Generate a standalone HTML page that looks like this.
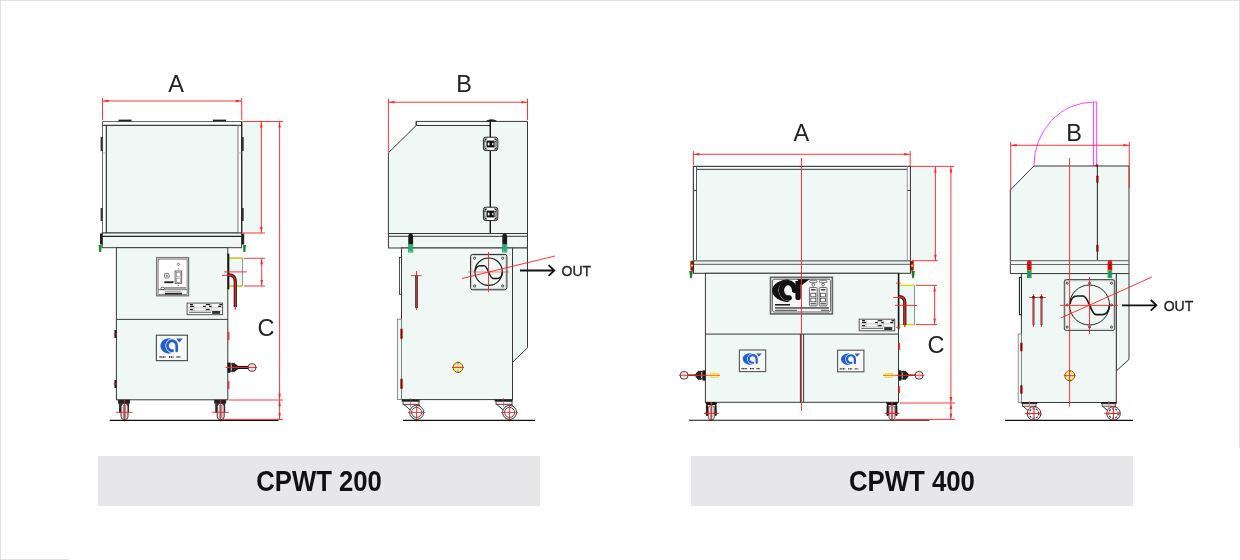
<!DOCTYPE html>
<html><head><meta charset="utf-8">
<style>
html,body{margin:0;padding:0;background:#fff;}
body{width:1240px;height:560px;overflow:hidden;position:relative;font-family:"Liberation Sans",sans-serif;}
svg{position:absolute;left:0;top:0;will-change:transform;}
.o{fill:none;stroke:#383838;stroke-width:1;}
.of{fill:#eff8f5;stroke:#383838;stroke-width:1;}
.g{fill:none;stroke:#8a8a8a;stroke-width:1;}
.r{fill:none;stroke:#ff2020;stroke-width:0.9;}
.rf{fill:#ff2020;stroke:none;}
.t{font-family:"Liberation Sans",sans-serif;fill:#222;}
</style></head><body>
<svg width="1240" height="560" viewBox="0 0 1240 560">
<defs>
<g id="nplate">
<rect x="0" y="0" width="35.5" height="11.6" fill="#fafafa" stroke="#555" stroke-width="1"/>
<path d="M7,0.6 V7.6 M18.3,0.6 V7.6 M24,0.6 V7.6 M0.8,4.7 H34.7 M0.8,7.6 H34.7" stroke="#999" stroke-width="0.5" fill="none"/>
<g fill="#1a1a1a">
<rect x="2.8" y="0.9" width="3" height="1.2"/><rect x="19" y="0.9" width="4" height="1.2"/><rect x="32.3" y="0.9" width="2.6" height="1.2"/>
<rect x="2.8" y="2.7" width="4" height="1.2"/><rect x="16" y="2.7" width="2.5" height="1.2"/><rect x="22" y="2.7" width="2.5" height="1.2"/><rect x="31" y="2.7" width="3.2" height="1.2"/>
<rect x="2.8" y="5.8" width="3" height="1.2"/><rect x="19" y="5.8" width="3.5" height="1.2"/>
<rect x="25" y="7.9" width="8" height="2.9" fill="#333"/>
</g>
<rect x="2" y="8.7" width="22" height="1" fill="#666"/>
</g>
<g id="logo">
<path d="M17.75,0.79 A14.5,11.3 0 1 0 19.16,22.5 A10.95,10.9 0 0 1 17.75,0.79 Z" fill="currentColor"/>
<path d="M20.08,19.1 A7.6,7.55 0 1 1 26.75,11.6 L26.75,19.3" fill="none" stroke="currentColor" stroke-width="4.3" stroke-linecap="round"/>
<path d="M26.2,0.75 H36.7 L30.9,6.9 Z" fill="currentColor"/>
</g>
</defs>
<!-- frame -->
<rect x="0" y="0" width="1240" height="1" fill="#e0e0e0"/>
<rect x="0" y="0" width="1" height="560" fill="#e0e0e0"/>
<rect x="1239" y="0" width="1" height="448" fill="#e0e0e0"/>
<rect x="0" y="559" width="69" height="1" fill="#e0e0e0"/>

<!-- ============ MACHINE 1 FRONT ============ -->
<g id="m1f">
<!-- pale side region -->
<rect x="242" y="121.5" width="19.4" height="111.5" fill="#eff8f5"/>
<!-- hood -->
<rect x="102.5" y="121.5" width="139.2" height="111.5" fill="#eff8f5" stroke="#6a6a6a" stroke-width="1"/>
<path d="M102.5,121.5 H241.7 V233 H238 V125.3 H106.3 V233 H102.5 Z" fill="#fcfdfd"/>
<rect x="102.5" y="121.5" width="139.2" height="111.5" fill="none" stroke="#6a6a6a" stroke-width="1"/>
<line x1="102.5" y1="125.3" x2="241.7" y2="125.3" stroke="#111" stroke-width="1"/>
<line x1="106.3" y1="125.3" x2="106.3" y2="233" stroke="#111" stroke-width="1"/>
<line x1="238" y1="125.3" x2="238" y2="233" stroke="#777" stroke-width="1"/>
<line x1="241.7" y1="121.5" x2="241.7" y2="233" stroke="#111" stroke-width="1"/>
<line x1="102.5" y1="153" x2="106.3" y2="153" stroke="#999" stroke-width="0.7"/>
<line x1="238" y1="153" x2="241.7" y2="153" stroke="#999" stroke-width="0.7"/>
<rect x="118.5" y="119.6" width="13" height="1.8" fill="#222"/>
<rect x="213" y="119.6" width="13" height="1.8" fill="#222"/>
<rect x="100.6" y="137" width="2" height="14" fill="#333"/>
<rect x="100.6" y="208" width="2" height="13" fill="#333"/>
<rect x="241.7" y="137" width="2" height="14" fill="#333"/>
<rect x="241.7" y="208" width="2" height="13" fill="#333"/>
<!-- rail + base plate -->
<rect x="102.2" y="233" width="139.4" height="14.7" class="of"/>
<line x1="102.2" y1="236.3" x2="241.6" y2="236.3" stroke="#222" stroke-width="1.2"/>

<!-- lower cabinet -->
<rect x="116.4" y="247.7" width="111.4" height="152.1" class="of"/>
<line x1="116.4" y1="319.4" x2="227.8" y2="319.4" class="o"/>
<!-- latches -->
<rect x="100" y="233.5" width="2.6" height="11" fill="#222"/>
<path d="M98.6,245 L101.6,245 L101.2,252 L99.2,252 Z" fill="#1a8a2a"/>
<rect x="241.6" y="233.5" width="2.6" height="11" fill="#222"/>
<path d="M243,245 L246,245 L245.4,252 L243.4,252 Z" fill="#1a8a2a"/>
<!-- control panel -->
<rect x="156.6" y="257.6" width="32" height="38.2" fill="#fff" stroke="#777" stroke-width="1.3"/>
<rect x="158.1" y="259.1" width="29" height="35.2" fill="none" stroke="#333" stroke-width="0.6"/>
<path d="M178.3,262.9 l1.4,1.4 l-1.4,1.4 l-1.4,-1.4 z" fill="none" stroke="#333" stroke-width="0.6"/>
<circle cx="178.3" cy="268.8" r="0.5" fill="#444"/>
<rect x="175.1" y="271" width="6.6" height="12.3" fill="#fff" stroke="#555" stroke-width="0.9"/>
<rect x="176.4" y="272.5" width="4" height="4.3" fill="#fff" stroke="#777" stroke-width="0.6"/>
<rect x="176.4" y="278.2" width="4" height="4.1" fill="#fff" stroke="#777" stroke-width="0.6"/>
<circle cx="178.3" cy="285.5" r="0.5" fill="#444"/>
<rect x="164.5" y="273.4" width="4.6" height="4.6" rx="1.3" fill="#fff" stroke="#333" stroke-width="0.7"/>
<path d="M165.6,275.7 h2.4 M166.8,274.5 v2.4" stroke="#333" stroke-width="0.6"/>
<rect x="164.3" y="281.3" width="9.2" height="1.9" fill="#222"/>
<ellipse cx="162.7" cy="288.4" rx="1.9" ry="1.2" fill="none" stroke="#222" stroke-width="0.7"/>
<rect x="165" y="287.4" width="21" height="1.1" fill="#555"/>
<rect x="158.2" y="289.5" width="29" height="0.6" fill="#222"/>
<rect x="164.5" y="290.9" width="17" height="0.8" fill="#888"/>
<rect x="165" y="292.8" width="17" height="1.6" fill="#222"/>
<!-- nameplate -->
<use href="#nplate" transform="translate(187.1,303.1)"/>
<!-- logo box -->
<rect x="156.4" y="335.2" width="31" height="25.4" fill="#f8f8f8" stroke="#555" stroke-width="1.2"/>
<use href="#logo" transform="translate(160.4,338) scale(0.61,0.67)" color="#1f5fd2"/>
<path d="M159.5,357 h6 m3.5,0 h4.5 m3,0 h4" stroke="#222" stroke-width="1.5" stroke-dasharray="1.2,0.6"/>
<!-- side hinges -->
<rect x="114.4" y="330" width="2" height="8" fill="#222"/>
<line x1="113.5" y1="334" x2="117" y2="334" stroke="#f22" stroke-width="0.8"/>
<rect x="114.4" y="380" width="2" height="8" fill="#222"/>
<line x1="113.5" y1="384" x2="117" y2="384" stroke="#f22" stroke-width="0.8"/>
<rect x="227.8" y="332" width="1.6" height="8" fill="#e33"/>
<rect x="227.8" y="381" width="1.6" height="8" fill="#e33"/>
<!-- flange right -->
<rect x="228" y="258.1" width="14.6" height="27.9" fill="#eff8f5" stroke="#888" stroke-width="0.9"/>
<line x1="228" y1="258.1" x2="242.6" y2="258.1" stroke="#d8d800" stroke-width="1.3"/>
<line x1="228" y1="286" x2="242.6" y2="286" stroke="#d8d800" stroke-width="1.3"/>
<rect x="227.5" y="253.6" width="1.8" height="35.7" fill="#111"/>
<path d="M228.5,274.8 Q235.3,274.8 235.3,281.5 L235.3,307" fill="none" stroke="#1a1a1a" stroke-width="3.2"/>
<path d="M228.5,274.8 Q235.3,274.8 235.3,281.5 L235.3,309.5" fill="none" stroke="#f22" stroke-width="1.3"/>
<line x1="224" y1="271.9" x2="247" y2="271.9" class="r"/>
<line x1="222" y1="275.4" x2="232" y2="275.4" class="r"/>
<!-- valve -->
<g transform="translate(227.6,367.5)">
<rect x="0" y="-5" width="2.8" height="10.3" fill="#1a1a1a"/>
<path d="M2.6,-4.3 H4.6 L5.2,-4.9 L5.9,-4.1 L6.6,-4.9 L7.3,-4.1 L8.6,-3 V3 L7.3,4.1 L6.6,4.9 L5.9,4.1 L5.2,4.9 L4.6,4.3 H2.6 Z" fill="#222"/>
<rect x="3.3" y="-3" width="0.9" height="6" fill="#cfd8d6"/>
<path d="M8.5,-3 L10.6,-1.5 H20.8 V1.5 H10.6 L8.5,3 Z" fill="#111"/>
<circle cx="24.4" cy="0" r="4" fill="#fff" stroke="#222" stroke-width="0.9"/>
<line x1="-2" y1="0" x2="29.4" y2="0" stroke="#ff2020" stroke-width="1"/>
<line x1="24.4" y1="-5" x2="24.4" y2="5" stroke="#ff8c8c" stroke-width="1"/>
</g>
<!-- casters -->
<g id="cast1">
<rect x="118" y="399.8" width="12" height="3.8" fill="#222"/>
<rect x="119" y="403" width="10" height="10" fill="#333"/>
<rect x="121" y="403.5" width="7" height="16" rx="3" fill="#ddd" stroke="#222" stroke-width="0.9"/>
<rect x="123" y="405" width="3" height="13" fill="#999"/>
<line x1="124.4" y1="399" x2="124.4" y2="421.5" class="r" stroke-width="1.2"/>
<line x1="116" y1="412.3" x2="132.5" y2="412.3" class="r" stroke-width="1.2"/>
</g>
<use href="#cast1" transform="translate(96.2,0)"/>
<!-- floor -->
<line x1="109.8" y1="420.4" x2="278.6" y2="420.4" stroke="#111" stroke-width="1.1"/>
<!-- dimensions -->
<line x1="102.5" y1="98" x2="102.5" y2="120" class="r"/>
<line x1="241.7" y1="98" x2="241.7" y2="120" class="r"/>
<line x1="102.5" y1="101" x2="241.7" y2="101" class="r"/>
<path d="M103,101 l5.5,-1.25 v2.5 z M241.2,101 l-5.5,-1.25 v2.5 z" class="rf"/>
<text x="176" y="92" text-anchor="middle" font-size="23.5" class="t">A</text>
<line x1="243" y1="121.5" x2="283" y2="121.5" class="r"/>
<line x1="243" y1="233" x2="265" y2="233" class="r"/>
<line x1="261.4" y1="121.5" x2="261.4" y2="233" class="r"/>
<path d="M261.4,122 l-1.25,5.5 h2.5 z M261.4,232.5 l-1.25,-5.5 h2.5 z" class="rf"/>
<line x1="279.6" y1="121.5" x2="279.6" y2="419.4" class="r"/>
<path d="M279.6,122 l-1.25,5.5 h2.5 z M279.6,399.2 l-1.25,-5.5 h2.5 z M279.6,400.6 l-1.25,5.5 h2.5 z M279.6,418.8 l-1.25,-5.5 h2.5 z" class="rf"/>
<line x1="244" y1="258.3" x2="265" y2="258.3" class="r"/>
<line x1="244" y1="286" x2="265" y2="286" class="r"/>
<line x1="261.7" y1="258.3" x2="261.7" y2="286" class="r"/>
<path d="M261.7,258.8 l-1.25,5.5 h2.5 z M261.7,285.5 l-1.25,-5.5 h2.5 z" class="rf"/>
<line x1="229" y1="400" x2="283" y2="400" class="r"/>
<line x1="223" y1="419.4" x2="283" y2="419.4" class="r"/>
<text x="266" y="336" text-anchor="middle" font-size="23.5" class="t">C</text>
</g>

<!-- ============ MACHINE 1 SIDE ============ -->
<g id="m1s">
<!-- hood -->
<path d="M416.2,121.4 H527.5 V233.5 H388.4 V152.8 L416.2,125.5 Z" class="of"/>
<path d="M416.2,121.4 V125.5 H490" class="o"/>
<line x1="490.3" y1="121.4" x2="490.3" y2="233.5" stroke="#111" stroke-width="1.4"/>
<path d="M486,121.4 q1,-2 5.5,-2.2 q4.5,0.2 5.5,2.2 z" fill="#222"/>
<g id="hng1">
<rect x="483.4" y="137.2" width="14.4" height="13.4" rx="2.5" fill="#fff" stroke="#222" stroke-width="1"/>
<path d="M484.5,138.5 l3,0 l-3,3 z M496.7,138.5 l-3,0 l3,3 z M484.5,149.5 l3,0 l-3,-3 z M496.7,149.5 l-3,0 l3,-3 z" fill="#222"/>
<rect x="486.6" y="140.6" width="8" height="6.8" fill="#111"/>
<rect x="487.8" y="142.6" width="1.6" height="2.8" fill="#fff"/>
<rect x="492" y="142.8" width="1.6" height="2.4" fill="#bbb"/>
<rect x="484.6" y="141.5" width="1.4" height="5" fill="#fff" stroke="#222" stroke-width="0.5"/>
<rect x="495.2" y="141.5" width="1.4" height="5" fill="#fff" stroke="#222" stroke-width="0.5"/>
</g>
<use href="#hng1" transform="translate(0,70)"/>
<!-- rail + base -->
<rect x="388.4" y="233.5" width="139.1" height="14.5" class="of"/>
<line x1="388.4" y1="236.3" x2="527.5" y2="236.3" class="o"/>

<!-- lower cabinet -->
<path d="M512.5,248 H527.5 V347.8 L512.5,362.3 Z" class="of"/>
<rect x="401.5" y="248" width="111" height="151.6" class="of"/>
<!-- latches -->
<g id="lt1">
<path d="M408.3,236 q0,-2.5 2.4,-2.5 q2.4,0 2.4,2.5 v8.5 h-4.8 z" fill="#1a1a1a"/>
<rect x="409.2" y="244.5" width="3" height="7" fill="#2a9fb0"/>
<rect x="408.6" y="244.8" width="4.2" height="7.2" fill="none" stroke="#18b020" stroke-width="0.9"/>
</g>
<use href="#lt1" transform="translate(94,0)"/>
<rect x="399.4" y="257.3" width="2" height="37" fill="#fff" stroke="#222" stroke-width="0.8"/>
<rect x="397.4" y="319.2" width="4.2" height="80.4" fill="#eff8f5" stroke="#777" stroke-width="0.8"/>
<rect x="400.3" y="328.6" width="2.4" height="10.6" rx="1" fill="#c41818"/><line x1="401.5" y1="329.5" x2="401.5" y2="338.3" stroke="#300" stroke-width="0.7"/>
<rect x="400.3" y="378.6" width="2.4" height="10.6" rx="1" fill="#c41818"/><line x1="401.5" y1="379.5" x2="401.5" y2="388.3" stroke="#300" stroke-width="0.7"/>
<!-- tube -->
<line x1="416.5" y1="275" x2="416.5" y2="308" stroke="#222" stroke-width="2.6"/>
<line x1="416.5" y1="271" x2="416.5" y2="310" class="r"/>
<line x1="411" y1="275.6" x2="421.5" y2="275.6" class="r"/>
<!-- fan -->
<rect x="470.6" y="254.4" width="36.3" height="35.4" rx="2.2" fill="#eff8f5" stroke="#222" stroke-width="1"/>
<rect x="471.8" y="255.6" width="33.9" height="33" rx="1.5" fill="none" stroke="#aaa" stroke-width="0.5"/>
<circle cx="488.6" cy="271.7" r="13.7" fill="none" stroke="#1a1a1a" stroke-width="1.1"/>
<path d="M475.2,271.2 C475.6,267.9 477.1,265.7 480.1,265.7 L484.1,265.7 C486.1,265.7 487.6,269.4 488.6,271.9 C489.6,274.4 491.1,278.5 493.1,278.5 L497.4,278.5 C500.1,278.5 502.2,275.9 502.4,271.9" fill="none" stroke="#1a1a1a" stroke-width="1.4"/>
<g fill="none" stroke="#333" stroke-width="0.9">
<circle cx="474.6" cy="258.2" r="1.1"/><circle cx="502.7" cy="258.2" r="1.1"/>
<circle cx="474.6" cy="286" r="1.1"/><circle cx="502.7" cy="286" r="1.1"/>
</g>
<line x1="488.5" y1="252" x2="488.5" y2="292" class="r"/>
<line x1="468" y1="272" x2="509" y2="272" class="r" stroke-opacity="0.6"/>
<line x1="462" y1="278.5" x2="555" y2="256" class="r"/>
<!-- arrow OUT -->
<line x1="520" y1="270.5" x2="554" y2="270.5" stroke="#111" stroke-width="1.8"/>
<path d="M548.6,265.2 L554.3,270.5 L548.6,275.8" fill="none" stroke="#111" stroke-width="1.8"/>
<text x="561.6" y="275.6" font-size="14.6" class="t" style="fill:#222;stroke:#222;stroke-width:0.35" textLength="29.6" lengthAdjust="spacingAndGlyphs">OUT</text>
<!-- yellow circle -->
<g id="ycirc">
<circle cx="458" cy="367.4" r="4.9" fill="#eef9f8" stroke="#222" stroke-width="0.9"/>
<circle cx="458" cy="367.4" r="3.9" fill="none" stroke="#f4f000" stroke-width="1.4"/>
<line x1="458" y1="361.6" x2="458" y2="373.2" stroke="#ff8c8c" stroke-width="1"/>
<line x1="452" y1="367.4" x2="464" y2="367.4" stroke="#ff2020" stroke-width="1"/>
<rect x="457.4" y="361.8" width="1.2" height="1.4" fill="#922"/>
<rect x="457.4" y="371.6" width="1.2" height="1.4" fill="#922"/>
</g>
<!-- casters -->
<g id="scast1">
<rect x="401.6" y="399.6" width="18" height="1.8" fill="#222"/>
<rect x="403" y="401.3" width="16" height="3" fill="#f4f4f4" stroke="#222" stroke-width="0.8"/>
<path d="M403.5,404.3 L414,413 M419,404.3 L419.5,409" stroke="#222" stroke-width="0.9" fill="none"/>
<circle cx="416.6" cy="412.4" r="7" fill="#fff" stroke="#222" stroke-width="0.9"/>
<circle cx="416.6" cy="412.4" r="5" fill="none" stroke="#222" stroke-width="0.8"/>
<line x1="408" y1="412.4" x2="425" y2="412.4" class="r" stroke-width="1.2"/>
<line x1="416.6" y1="404" x2="416.6" y2="421.5" class="r" stroke-width="1.2"/>
<line x1="410.5" y1="398" x2="410.5" y2="407" class="r" stroke-opacity="0.6"/>
</g>
<use href="#scast1" transform="translate(93,0)"/>
<line x1="403" y1="420.4" x2="535" y2="420.4" stroke="#111" stroke-width="1.1"/>
<!-- dims -->
<line x1="388.4" y1="98.6" x2="388.4" y2="152" class="r"/>
<line x1="527.5" y1="98.7" x2="527.5" y2="120" class="r"/>
<line x1="388.4" y1="102.2" x2="527.5" y2="102.2" class="r"/>
<path d="M388.9,102.2 l5.5,-1.25 v2.5 z M527,102.2 l-5.5,-1.25 v2.5 z" class="rf"/>
<text x="464" y="91.7" text-anchor="middle" font-size="23.5" class="t">B</text>
</g>

<!-- ============ MACHINE 2 FRONT ============ -->
<g id="m2f">
<rect x="910.4" y="166.4" width="25" height="94.3" fill="#eff8f5"/>
<!-- hood -->
<rect x="693.4" y="166.4" width="217" height="94.3" class="of"/>
<path d="M693.4,166.4 H910.4 V260.7 H907.3 V169.3 H696.5 V260.7 H693.4 Z" fill="#fcfdfd"/>
<rect x="693.4" y="166.4" width="217" height="94.3" class="o"/>
<line x1="696.5" y1="169.3" x2="907.3" y2="169.3" class="o"/>
<line x1="696.5" y1="166.4" x2="696.5" y2="260.7" stroke="#555" stroke-width="1"/>
<line x1="907.3" y1="166.4" x2="907.3" y2="260.7" stroke="#999" stroke-width="1"/>
<line x1="693.4" y1="190.4" x2="696.5" y2="190.4" stroke="#333" stroke-width="1"/>
<line x1="907.3" y1="190.4" x2="910.4" y2="190.4" stroke="#333" stroke-width="1"/>
<!-- rail + base -->
<rect x="693.4" y="260.7" width="217" height="12.6" fill="#eff8f5" stroke="#333" stroke-width="1"/>
<line x1="693.4" y1="260.7" x2="910.4" y2="260.7" stroke="#888" stroke-width="1.6"/>
<line x1="693.4" y1="264.4" x2="910.4" y2="264.4" stroke="#777" stroke-width="1.2"/>

<!-- lower cabinet -->
<rect x="705.4" y="273.3" width="193.1" height="129" class="of"/>
<line x1="705.4" y1="334.1" x2="898.5" y2="334.1" class="o"/>
<line x1="800.4" y1="334.1" x2="800.4" y2="402.3" class="o"/>
<line x1="803.6" y1="334.1" x2="803.6" y2="402.3" class="o"/>
<!-- latches -->
<g id="lt2">
<rect x="690.4" y="260.8" width="3.2" height="10" rx="1" fill="#a81010"/>
<line x1="693.6" y1="261" x2="693.6" y2="270.5" stroke="#222" stroke-width="0.7"/>
<circle cx="691.9" cy="265.6" r="1.2" fill="#f0d800"/>
<rect x="689.8" y="264.3" width="1" height="1" fill="#e22"/>
<path d="M689.3,271 L692.8,271 L691.8,278.2 L690.2,278.2 Z" fill="#1a7a22"/>
</g>
<use href="#lt2" transform="translate(1604.1,0) scale(-1,1)"/>
<!-- control panel -->
<rect x="770.5" y="277.3" width="61.9" height="36.6" fill="#f6f6f6" stroke="#666" stroke-width="1.6"/>
<path d="M773.5,279.2 H829.5 L830.6,280.3 V310.9 L829.5,312 H773.5 L772.4,310.9 V280.3 Z" fill="none" stroke="#222" stroke-width="0.7"/>
<path d="M790,279.2 A18,11.4 0 0 0 790,302 L789,301.6 A12.2,11.1 0 0 1 789,279.6 Z" fill="#111"/>
<path d="M789.15,297.9 A6.6,7.7 0 1 1 794.6,290.3" fill="none" stroke="#111" stroke-width="5.4" stroke-linecap="round"/>
<path d="M795.4,281 H800.7 V297.4 A2.65,2.65 0 0 1 795.4,297.4 Z" fill="#111"/>
<path d="M797,279.2 H809.5 L801.5,285.5 Z" fill="#111"/>
<g id="sw2">
<rect x="809.6" y="280.3" width="7.4" height="2.4" rx="1.2" fill="#eee" stroke="#222" stroke-width="0.6"/>
<circle cx="813.3" cy="284.7" r="1.3" fill="none" stroke="#222" stroke-width="0.6"/>
<rect x="809.4" y="287.5" width="7.8" height="18.4" rx="1" fill="#f4f4f4" stroke="#333" stroke-width="0.7"/>
<rect x="811" y="289" width="4.6" height="1.5" fill="#444"/>
<rect x="810.8" y="293.2" width="5" height="3.6" fill="#fff" stroke="#333" stroke-width="0.7"/>
<rect x="810.8" y="298.2" width="5" height="3.6" fill="#fff" stroke="#333" stroke-width="0.7"/>
<rect x="810.5" y="303" width="5.6" height="1.4" fill="#666"/>
</g>
<use href="#sw2" transform="translate(9.8,0)"/>
<rect x="775" y="304" width="15" height="1.6" fill="#222"/>
<rect x="775" y="307.3" width="54" height="1.3" fill="#333"/>
<rect x="775" y="309.8" width="22" height="1" fill="#444"/>
<rect x="821" y="309.8" width="8" height="1" fill="#444"/>
<!-- nameplate -->
<use href="#nplate" transform="translate(859.2,319.2)"/>
<!-- logo boxes -->
<g id="lg2">
<rect x="739.4" y="350" width="26.3" height="21.6" fill="#f8f8f8" stroke="#555" stroke-width="1.1"/>
<use href="#logo" transform="translate(742.75,353) scale(0.52,0.51)" color="#1f5fd2"/>
<path d="M741.5,368.6 h5.5 m3,0 h4 m2.5,0 h3.5" stroke="#222" stroke-width="1.3" stroke-dasharray="1.1,0.5"/>
</g>
<use href="#lg2" transform="translate(98.2,0.2)"/>
<!-- right side hinges -->
<rect x="898.5" y="343" width="1.6" height="7" fill="#e33"/>
<rect x="898.5" y="386" width="1.6" height="7" fill="#e33"/>
<!-- flange right -->
<rect x="898.5" y="285.4" width="16" height="39.2" fill="#eff8f5" stroke="#888" stroke-width="0.9"/>
<line x1="898.5" y1="285.4" x2="914.5" y2="285.4" stroke="#d8d800" stroke-width="1.3"/>
<line x1="898.5" y1="324.6" x2="914.5" y2="324.6" stroke="#d8d800" stroke-width="1.3"/>
<rect x="897.8" y="273.3" width="1.6" height="56" fill="#111"/>
<path d="M898.8,296.6 Q904.8,296.6 904.8,302.5 L904.8,325" fill="none" stroke="#1a1a1a" stroke-width="3.2"/>
<path d="M898.8,296.6 Q904.8,296.6 904.8,302.5 L904.8,327" fill="none" stroke="#f22" stroke-width="1.3"/>
<line x1="893" y1="297.5" x2="905" y2="297.5" class="r"/>
<line x1="895" y1="305.4" x2="917" y2="305.4" class="r"/>
<line x1="896" y1="283" x2="900.5" y2="283" class="r"/>
<line x1="896" y1="327.3" x2="900.5" y2="327.3" class="r"/>
<!-- valves -->
<g id="vl2" transform="translate(705.4,375.3) scale(-1,1)">
<rect x="0" y="-5" width="2.8" height="10.3" fill="#1a1a1a"/>
<path d="M2.6,-4.3 H4.6 L5.2,-4.9 L5.9,-4.1 L6.6,-4.9 L7.3,-4.1 L8.6,-3 V3 L7.3,4.1 L6.6,4.9 L5.9,4.1 L5.2,4.9 L4.6,4.3 H2.6 Z" fill="#222"/>
<rect x="3.3" y="-3" width="0.9" height="6" fill="#cfd8d6"/>
<path d="M8.5,-3 L10.3,-0.8 H17.7 V0.8 H10.3 L8.5,3 Z" fill="#111"/>
<circle cx="21.3" cy="0" r="4" fill="#fff" stroke="#222" stroke-width="0.9"/>
<line x1="-2" y1="0" x2="26.3" y2="0" stroke="#ff2020" stroke-width="1"/>
<line x1="21.3" y1="-5" x2="21.3" y2="5" stroke="#ff8c8c" stroke-width="1"/>
</g>
<g transform="translate(898.5,375.3)">
<rect x="0" y="-5" width="2.8" height="10.3" fill="#1a1a1a"/>
<path d="M2.6,-4.3 H4.6 L5.2,-4.9 L5.9,-4.1 L6.6,-4.9 L7.3,-4.1 L8.6,-3 V3 L7.3,4.1 L6.6,4.9 L5.9,4.1 L5.2,4.9 L4.6,4.3 H2.6 Z" fill="#222"/>
<rect x="3.3" y="-3" width="0.9" height="6" fill="#cfd8d6"/>
<path d="M8.5,-3 L10.3,-0.8 H17.0 V0.8 H10.3 L8.5,3 Z" fill="#111"/>
<circle cx="20.6" cy="0" r="4" fill="#fff" stroke="#222" stroke-width="0.9"/>
<line x1="-2" y1="0" x2="25.6" y2="0" stroke="#ff2020" stroke-width="1"/>
<line x1="20.6" y1="-5" x2="20.6" y2="5" stroke="#ff8c8c" stroke-width="1"/>
</g>
<rect x="711" y="373.4" width="7" height="3.9" fill="none" stroke="#f0ec00" stroke-width="1.1"/>
<rect x="885.2" y="373.4" width="7" height="3.9" fill="none" stroke="#f0ec00" stroke-width="1.1"/>
<line x1="707" y1="375.3" x2="720" y2="375.3" stroke="#ff4040" stroke-width="0.9"/>
<line x1="883" y1="375.3" x2="897" y2="375.3" stroke="#ff4040" stroke-width="0.9"/>
<!-- casters -->
<g id="cast2">
<path d="M705.3,402.3 H717.3 L716.3,405 H706.3 Z" fill="#111"/>
<rect x="705.9" y="405" width="2.2" height="11" rx="1" fill="#222"/>
<rect x="714.5" y="405" width="2.2" height="11" rx="1" fill="#222"/>
<rect x="708.3" y="405.6" width="6" height="14.4" rx="2.8" fill="#e4e4e4" stroke="#444" stroke-width="0.8"/>
<rect x="710.2" y="407" width="2.2" height="12" fill="#aaa"/>
<circle cx="707" cy="413.3" r="1.3" fill="#111"/>
<circle cx="715.6" cy="413.3" r="1.3" fill="#111"/>
<line x1="711.3" y1="402" x2="711.3" y2="420.5" stroke="#ff2020" stroke-width="1.1"/>
<line x1="704" y1="413.3" x2="718.6" y2="413.3" stroke="#ff2020" stroke-width="1.1"/>
</g>
<use href="#cast2" transform="translate(180.7,0)"/>
<line x1="689" y1="420.3" x2="929.5" y2="420.3" stroke="#111" stroke-width="1.1"/>
<!-- center line -->
<line x1="801.5" y1="158" x2="801.5" y2="411" class="r"/>
<!-- dims -->
<line x1="693.4" y1="151" x2="693.4" y2="165" class="r"/>
<line x1="910.2" y1="151" x2="910.2" y2="166" class="r"/>
<line x1="693.4" y1="154.3" x2="910.2" y2="154.3" class="r"/>
<path d="M693.9,154.3 l5.5,-1.25 v2.5 z M909.7,154.3 l-5.5,-1.25 v2.5 z" class="rf"/>
<text x="801.3" y="141.2" text-anchor="middle" font-size="23.5" class="t">A</text>
<line x1="911" y1="166.4" x2="954" y2="166.4" class="r"/>
<line x1="912" y1="260.7" x2="938" y2="260.7" class="r"/>
<line x1="935.4" y1="166.4" x2="935.4" y2="260.7" class="r"/>
<path d="M935.4,166.9 l-1.25,5.5 h2.5 z M935.4,260.2 l-1.25,-5.5 h2.5 z" class="rf"/>
<line x1="950.9" y1="166.4" x2="950.9" y2="419.4" class="r"/>
<path d="M950.9,166.9 l-1.25,5.5 h2.5 z M950.9,402.5 l-1.25,-5.5 h2.5 z M950.9,403.5 l-1.25,5.5 h2.5 z M950.9,418.9 l-1.25,-5.5 h2.5 z" class="rf"/>
<line x1="916" y1="285.4" x2="937" y2="285.4" class="r"/>
<line x1="916" y1="324.6" x2="937" y2="324.6" class="r"/>
<line x1="934.6" y1="285.4" x2="934.6" y2="324.6" class="r"/>
<path d="M934.6,285.9 l-1.25,5.5 h2.5 z M934.6,324.1 l-1.25,-5.5 h2.5 z" class="rf"/>
<line x1="900" y1="403" x2="955" y2="403" class="r"/>
<line x1="895" y1="419.4" x2="955" y2="419.4" class="r"/>
<text x="936" y="352.8" text-anchor="middle" font-size="23.5" class="t">C</text>
</g>

<!-- ============ MACHINE 2 SIDE ============ -->
<g id="m2s">
<!-- magenta door swing -->
<path d="M1033.9,165.7 A59.7,63.6 0 0 1 1093.6,102.1" fill="none" stroke="#ff30ff" stroke-width="0.9"/>
<rect x="1093.6" y="102.1" width="3.1" height="63.6" fill="#eff8f5" stroke="#ff30ff" stroke-width="0.9"/>
<!-- hood -->
<path d="M1033.8,166 H1129 V273.6 H1010.3 V190 Z" class="of"/>
<line x1="1097.4" y1="166" x2="1097.4" y2="260.6" stroke="#333" stroke-width="1.1"/>
<rect x="1096.2" y="175.5" width="2.4" height="7.5" rx="0.8" fill="#b82020"/><line x1="1097.4" y1="176" x2="1097.4" y2="182.5" stroke="#222" stroke-width="0.8"/>
<rect x="1096.2" y="244.6" width="2.4" height="7.5" rx="0.8" fill="#b82020"/><line x1="1097.4" y1="245" x2="1097.4" y2="251.6" stroke="#222" stroke-width="0.8"/>
<circle cx="1097" cy="165.6" r="1.3" fill="#c00"/>
<line x1="1010.3" y1="260.6" x2="1129" y2="260.6" stroke="#777" stroke-width="1.3"/>
<line x1="1010.3" y1="264.5" x2="1129" y2="264.5" stroke="#666" stroke-width="1.1"/>

<!-- back + lower cabinet -->
<path d="M1116.3,273.6 H1129 V359.4 L1116.3,371 Z" class="of"/>
<rect x="1021.4" y="273.6" width="94.9" height="128.9" class="of"/>
<!-- latches -->
<g id="lt3">
<path d="M1027,262.5 q0,-2.2 2.3,-2.2 q2.3,0 2.3,2.2 v8.1 h-4.6 z" fill="#e81010"/>
<rect x="1028.6" y="264" width="1.4" height="1.8" fill="#500"/>
<rect x="1028.2" y="267.3" width="2.2" height="1" fill="#500"/>
<rect x="1027.4" y="270.3" width="1" height="0.8" fill="#e0c000"/><rect x="1030.2" y="270.3" width="1" height="0.8" fill="#e0c000"/>
<rect x="1027.8" y="271" width="3" height="6.6" fill="#1e8aa0"/>
<rect x="1027.5" y="271" width="3.6" height="6.6" fill="none" stroke="#10b020" stroke-width="0.9"/>
</g>
<use href="#lt3" transform="translate(80.6,0)"/>
<rect x="1019.4" y="277.3" width="2" height="37.4" fill="#fff" stroke="#111" stroke-width="1"/>
<rect x="1018.2" y="334" width="3.4" height="68.5" fill="#eff8f5" stroke="#777" stroke-width="0.8"/>
<rect x="1020.2" y="342.5" width="2.4" height="9" rx="1" fill="#c41818"/><line x1="1021.4" y1="343.3" x2="1021.4" y2="350.7" stroke="#300" stroke-width="0.7"/>
<rect x="1020.2" y="385" width="2.4" height="9" rx="1" fill="#c41818"/><line x1="1021.4" y1="385.8" x2="1021.4" y2="393.2" stroke="#300" stroke-width="0.7"/>
<!-- tubes -->
<line x1="1033.5" y1="297" x2="1033.5" y2="325" stroke="#777" stroke-width="2.4"/>
<line x1="1041.5" y1="297" x2="1041.5" y2="325" stroke="#777" stroke-width="2.4"/>
<line x1="1033.5" y1="294" x2="1033.5" y2="327" class="r"/>
<line x1="1041.5" y1="294" x2="1041.5" y2="327" class="r"/>
<line x1="1029" y1="297.5" x2="1046" y2="297.5" class="r"/>
<ellipse cx="1033.5" cy="297.3" rx="1.6" ry="1.3" fill="#611"/><ellipse cx="1041.5" cy="297.3" rx="1.6" ry="1.3" fill="#611"/>
<!-- fan -->
<rect x="1064.3" y="279.6" width="50.4" height="50.9" rx="2.5" fill="#eff8f5" stroke="#555" stroke-width="1.1"/>
<rect x="1065.6" y="280.9" width="47.8" height="48.3" rx="2" fill="none" stroke="#aaa" stroke-width="0.5"/>
<circle cx="1089.5" cy="305" r="20" fill="none" stroke="#222" stroke-width="1"/>
<path d="M1070.1,304.0 C1070.7,299.2 1072.8,296.0 1077.2,296.0 L1083.0,296.0 C1085.9,296.0 1088.0,301.4 1089.5,305.0 C1091.0,308.6 1093.1,314.6 1096.0,314.6 L1102.3,314.6 C1106.2,314.6 1109.2,310.8 1109.5,305.0" fill="none" stroke="#1a1a1a" stroke-width="1.7"/>
<g fill="none" stroke="#333" stroke-width="0.9">
<circle cx="1067.2" cy="283.2" r="1"/><circle cx="1089.5" cy="283.2" r="1"/><circle cx="1111.5" cy="283.2" r="1"/>
<circle cx="1067.2" cy="305" r="1"/><circle cx="1111.5" cy="305" r="1"/>
<circle cx="1067.2" cy="327" r="1"/><circle cx="1089.5" cy="327" r="1"/><circle cx="1111.5" cy="327" r="1"/>
</g>
<line x1="1089.5" y1="277" x2="1089.5" y2="334" class="r"/>
<line x1="1060" y1="305.4" x2="1118" y2="305.4" stroke="#ff2020" stroke-width="0.9"/>
<line x1="1061" y1="317.9" x2="1152" y2="277" class="r"/>
<!-- arrow OUT -->
<line x1="1122" y1="305.3" x2="1156" y2="305.3" stroke="#111" stroke-width="1.8"/>
<path d="M1150.7,300 L1156.4,305.3 L1150.7,310.6" fill="none" stroke="#111" stroke-width="1.8"/>
<text x="1163.7" y="310.6" font-size="14.6" class="t" style="fill:#222;stroke:#222;stroke-width:0.35" textLength="29.6" lengthAdjust="spacingAndGlyphs">OUT</text>
<!-- yellow circle -->
<use href="#ycirc" transform="translate(611.8,8.3)"/>
<!-- casters -->
<g id="scast2">
<rect x="1021.4" y="402.3" width="15.8" height="1.6" fill="#111"/>
<rect x="1022.6" y="403.8" width="13.4" height="2.4" fill="#f4f4f4" stroke="#222" stroke-width="0.7"/>
<path d="M1023,406.2 L1030.5,412.5 M1035.6,406.2 L1036,409" stroke="#222" stroke-width="0.9" fill="none"/>
<circle cx="1034" cy="413.5" r="6.8" fill="#fff" stroke="#222" stroke-width="0.9"/>
<circle cx="1034" cy="413.5" r="4.8" fill="none" stroke="#333" stroke-width="1.1" stroke-dasharray="2.2,1.2"/>
<line x1="1025" y1="413.5" x2="1041.5" y2="413.5" stroke="#ff2020" stroke-width="1.1"/>
<line x1="1034" y1="406" x2="1034" y2="420.5" stroke="#ff2020" stroke-width="1.1"/>
<line x1="1029.3" y1="401" x2="1029.3" y2="409" stroke="#ff6060" stroke-width="0.9"/>
</g>
<use href="#scast2" transform="translate(79.5,0)"/>
<line x1="1005" y1="420.4" x2="1133" y2="420.4" stroke="#111" stroke-width="1.1"/>
<!-- center line -->
<line x1="1069.6" y1="158" x2="1069.6" y2="406.7" class="r"/>
<!-- dims -->
<line x1="1010.7" y1="142" x2="1010.7" y2="190" class="r"/>
<line x1="1129.3" y1="142" x2="1129.3" y2="188" class="r"/>
<line x1="1010.7" y1="145.3" x2="1129.3" y2="145.3" class="r"/>
<path d="M1011.2,145.3 l5.5,-1.25 v2.5 z M1128.8,145.3 l-5.5,-1.25 v2.5 z" class="rf"/>
<text x="1074.2" y="140.7" text-anchor="middle" font-size="23.5" class="t">B</text>
</g>

<!-- captions -->
<rect x="98" y="456" width="442" height="50" fill="#e7e7e9"/>
<rect x="691" y="456" width="442" height="50" fill="#e7e7e9"/>
<text x="256.3" y="491" font-size="29" font-weight="bold" class="t" style="fill:#111" textLength="125.5" lengthAdjust="spacingAndGlyphs">CPWT 200</text>
<text x="848.9" y="491" font-size="29" font-weight="bold" class="t" style="fill:#111" textLength="126" lengthAdjust="spacingAndGlyphs">CPWT 400</text>
</svg>
</body></html>
